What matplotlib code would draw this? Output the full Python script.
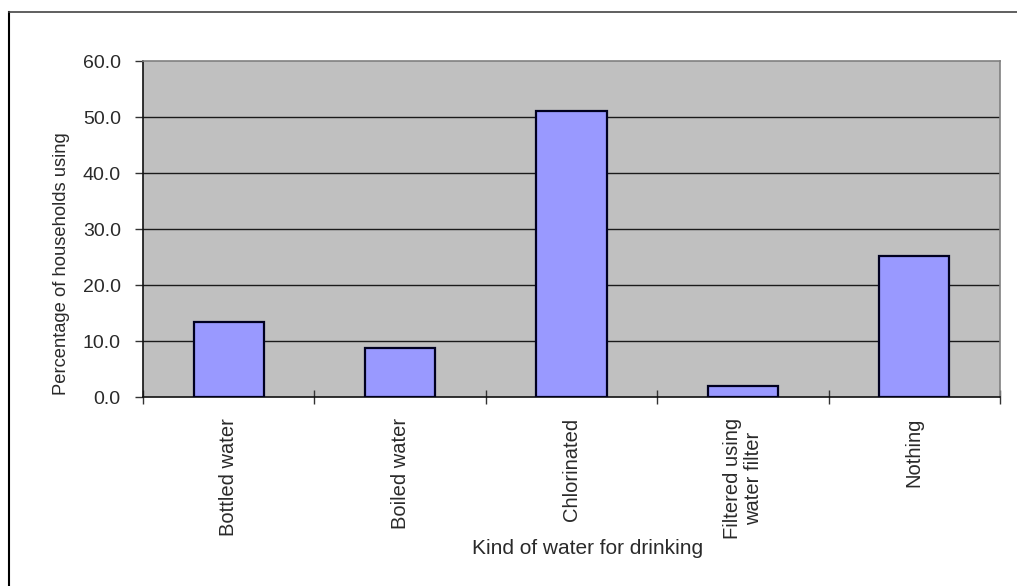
import matplotlib
matplotlib.use("Agg")
import matplotlib.pyplot as plt
from matplotlib.lines import Line2D

plt.rcParams['font.family'] = ['Liberation Sans', 'DejaVu Sans']

categories = ["Bottled water", "Boiled water", "Chlorinated",
              "Filtered using\nwater filter", "Nothing"]
percentages = [13.4, 8.7, 51.0, 2.0, 25.2]
y_ticks = [0, 10, 20, 30, 40, 50, 60]
y_tick_labels = ["0.0", "10.0", "20.0", "30.0", "40.0", "50.0", "60.0"]

W, H = 1017, 586
fig = plt.figure(figsize=(W / 100, H / 100), dpi=100)
fig.patch.set_facecolor("white")

# plot area in pixel coordinates
left, right, top, bottom = 143, 1000, 61, 397
ax = fig.add_axes([left / W, 1 - bottom / H, (right - left) / W, (bottom - top) / H])
ax.set_facecolor("#c0c0c0")

x = list(range(len(categories)))
ax.bar(x, percentages, width=0.41, color="#9999ff", edgecolor="#000020",
       linewidth=1.6, zorder=3)

ax.set_xlim(-0.5, len(categories) - 0.5)
ax.set_ylim(0, 60)

ax.set_yticks(y_ticks)
ax.set_yticklabels(y_tick_labels, fontsize=14, color="#2a2a2a")
for y in y_ticks[1:-1]:
    ax.axhline(y, color="#1a1a1a", linewidth=1.0, zorder=1)

# category ticks sit on the boundaries, labels in the middle
ax.set_xticks([i - 0.5 for i in range(len(categories) + 1)])
ax.set_xticklabels([])
ax.set_xticks(x, minor=True)
ax.set_xticklabels(categories, minor=True, rotation=90, fontsize=14.5,
                   color="#2a2a2a", va="top", ha="center", linespacing=1.15)
ax.tick_params(axis="x", which="major", direction="inout", length=10, width=1, color="#333333")
ax.tick_params(axis="x", which="minor", length=0, pad=15)
ax.tick_params(axis="y", direction="out", length=6, width=1, color="#333333", pad=10)

for side in ("top", "right"):
    ax.spines[side].set_color("#808080")
    ax.spines[side].set_linewidth(1.2)
for side in ("left", "bottom"):
    ax.spines[side].set_color("#111111")
    ax.spines[side].set_linewidth(1.2)

fig.text(62 / W, 1 - 264 / H, "Percentage of households using", rotation=90,
         ha="center", va="center", fontsize=13.2, color="#2a2a2a")
fig.text(588 / W, 1 - 548 / H, "Kind of water for drinking",
         ha="center", va="center", fontsize=15, color="#2a2a2a")

# outer frame (left and top edges)
fig.add_artist(Line2D([9 / W, 9 / W], [0, 1 - 12 / H], transform=fig.transFigure,
                      color="black", linewidth=1.5))
fig.add_artist(Line2D([9 / W, 1], [1 - 12 / H, 1 - 12 / H], transform=fig.transFigure,
                      color="#444444", linewidth=1.2))

fig.savefig("out.png", dpi=100, facecolor="white")
